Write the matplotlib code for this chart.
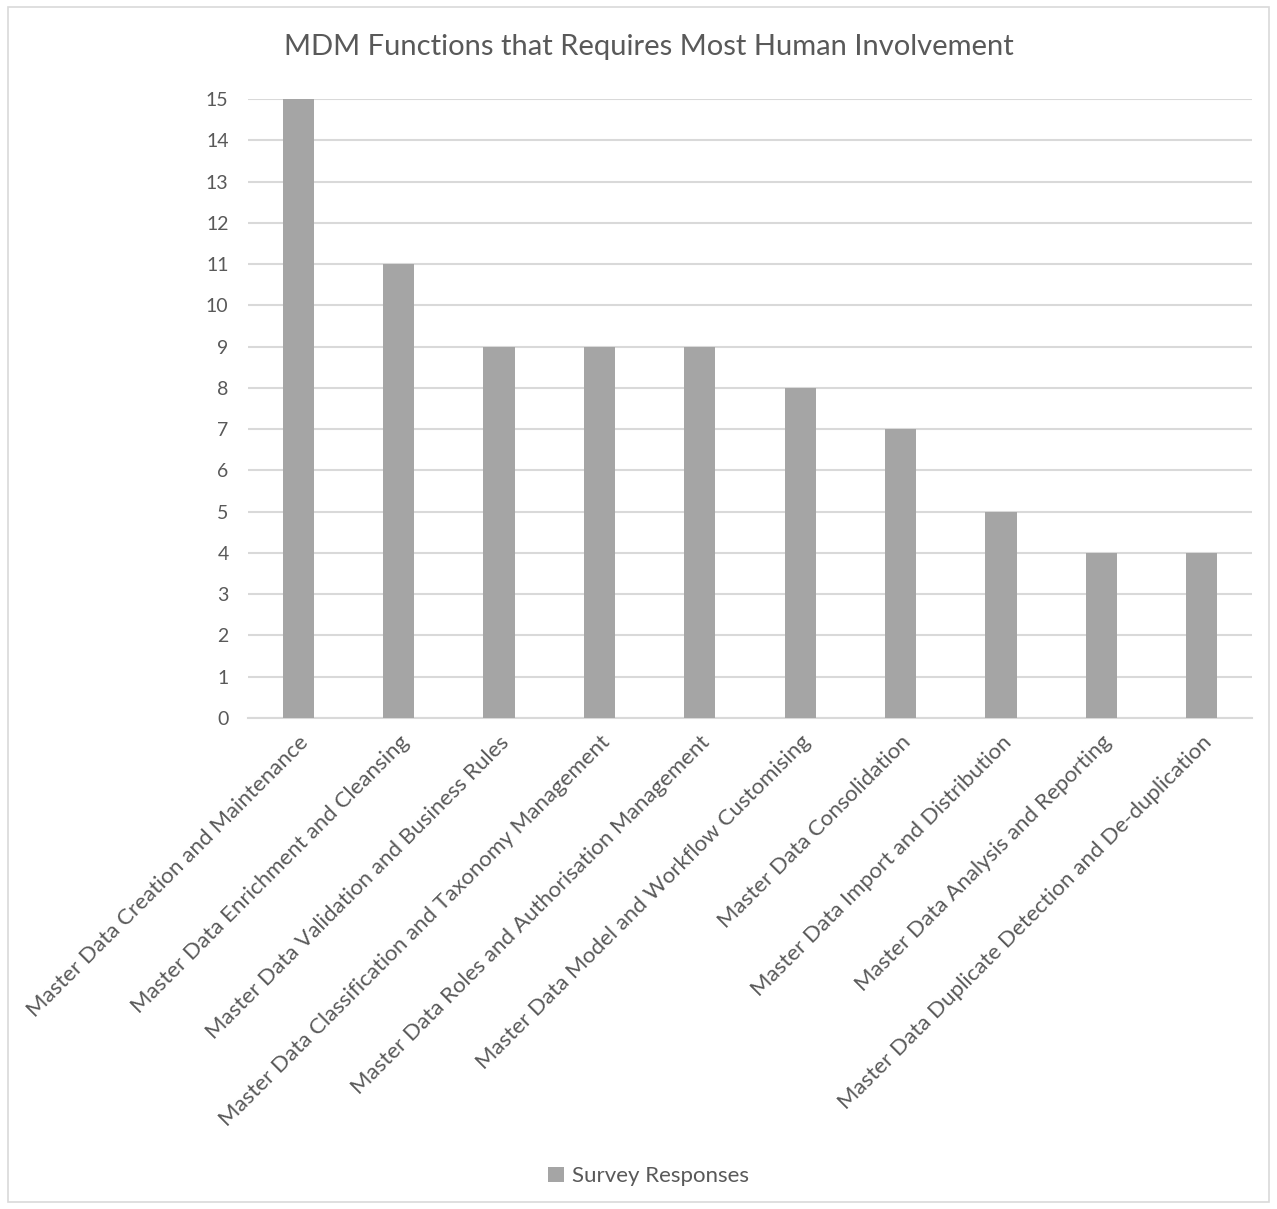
import matplotlib.pyplot as plt
import numpy as np
from matplotlib.patches import Rectangle

plt.rcParams['font.family'] = ['Lato', 'DejaVu Sans']

functions = [
    'Master Data Creation and Maintenance',
    'Master Data Enrichment and Cleansing',
    'Master Data Validation and Business Rules',
    'Master Data Classification and Taxonomy Management',
    'Master Data Roles and Authorisation Management',
    'Master Data Model and Workflow Customising',
    'Master Data Consolidation',
    'Master Data Import and Distribution',
    'Master Data Analysis and Reporting',
    'Master Data Duplicate Detection and De-duplication',
]
responses = [15, 11, 9, 9, 9, 8, 7, 5, 4, 4]

text_col = '#595959'
bar_col = '#A5A5A5'
grid_col = '#D9D9D9'

fig = plt.figure(figsize=(12.77, 12.09), dpi=100)
ax = fig.add_axes([0.1942, 0.4061, 0.7862, 0.512])

x = np.arange(len(functions))
ax.bar(x, responses, width=0.31, color=bar_col, zorder=3, label='Survey Responses')

ax.set_xlim(-0.5, len(functions) - 0.5)
ax.set_ylim(0, 15)
ax.set_yticks(range(0, 16))
ax.yaxis.grid(True, color=grid_col, linewidth=1.5, zorder=0)
ax.tick_params(axis='y', length=0, labelsize=14, labelcolor=text_col, pad=14)
ax.tick_params(axis='x', length=0, labelsize=16, labelcolor=text_col, pad=10)
ax.set_xticks(x)
ax.set_xticklabels(functions, rotation=45, ha='right', rotation_mode='anchor')
for s in ['top', 'right', 'left']:
    ax.spines[s].set_visible(False)
ax.spines['bottom'].set_color(grid_col)
ax.spines['bottom'].set_linewidth(1.5)

fig.text(0.508, 0.961, 'MDM Functions that Requires Most Human Involvement',
         ha='center', va='center', fontsize=21, color=text_col)

fig.legend(loc='center', bbox_to_anchor=(0.508, 0.027), frameon=False,
           fontsize=16, labelcolor=text_col, handlelength=0.7, handleheight=0.7,
           handletextpad=0.4)

# light border around the whole chart
fig.patches.append(Rectangle((0.006, 0.006), 0.988, 0.988, transform=fig.transFigure,
                             fill=False, edgecolor='#D9D9D9', linewidth=1.2))

fig.savefig('out.png', dpi=100, facecolor='white')
